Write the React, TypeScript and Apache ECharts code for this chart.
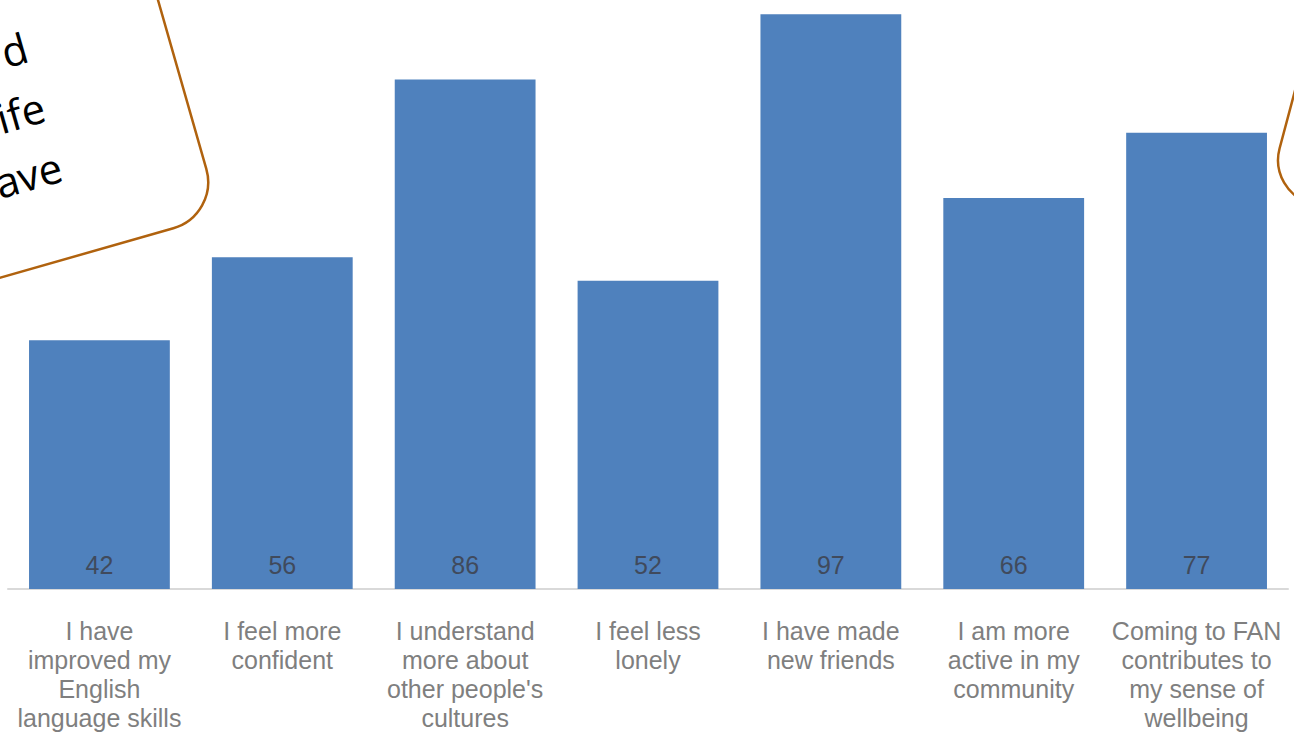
import React, { useEffect, useRef } from "react";
import * as echarts from "echarts";

const categories: string[] = [
  "I have\nimproved my\nEnglish\nlanguage skills",
  "I feel more\nconfident",
  "I understand\nmore about\nother people's\ncultures",
  "I feel less\nlonely",
  "I have made\nnew friends",
  "I am more\nactive in my\ncommunity",
  "Coming to FAN\ncontributes to\nmy sense of\nwellbeing",
];
const values: number[] = [42, 56, 86, 52, 97, 66, 77];
const calloutLines: string[] = ["d", "ife", "ave"];

const BROWN = "#b0620e";

export default function App() {
  const ref = useRef<HTMLDivElement>(null);
  useEffect(() => {
    if (!ref.current) return;
    const chart = echarts.init(ref.current, undefined, { renderer: "svg" });
    const labelFont = "'Liberation Sans', Arial, sans-serif";
    chart.setOption({
      animation: false,
      backgroundColor: "#ffffff",
      grid: { left: 8, right: 6, top: 0, bottom: 147, containLabel: false },
      xAxis: {
        type: "category",
        data: categories,
        axisLine: { show: true, lineStyle: { color: "#d9d9d9", width: 2 } },
        axisTick: { show: false },
        axisLabel: {
          interval: 0,
          margin: 27,
          color: "#7f7f7f",
          fontSize: 25,
          lineHeight: 29,
          fontFamily: labelFont,
          verticalAlign: "top",
        },
      },
      yAxis: {
        type: "value",
        min: 0,
        max: 99.4,
        show: false,
        splitLine: { show: false },
      },
      series: [
        {
          type: "bar",
          data: values,
          barCategoryGap: "23%",
          itemStyle: { color: "#4f81bd" },
          label: {
            show: true,
            position: "insideBottom",
            distance: 12,
            color: "#404a5c",
            fontSize: 25,
            fontFamily: labelFont,
          },
        },
      ],
      graphic: [
        {
          type: "group",
          x: 219.5,
          y: 215,
          rotation: 0.279,
          children: [
            {
              type: "rect",
              shape: { x: -600, y: -400, width: 600, height: 400, r: 48 },
              style: { fill: "#ffffff", stroke: BROWN, lineWidth: 2.5 },
            },
            ...calloutLines.map((t, i) => ({
              type: "text",
              style: {
                text: t,
                x: -139,
                y: -216 + i * 62,
                align: "right",
                verticalAlign: "middle",
                fontSize: 42,
                fontFamily: "'Open Sans', sans-serif",
                fill: "#000000",
              },
            })),
          ],
        },
        {
          type: "group",
          x: 1268,
          y: 192,
          rotation: -0.26,
          children: [
            {
              type: "rect",
              shape: { x: 0, y: -300, width: 400, height: 300, r: 45 },
              style: { fill: "#ffffff", stroke: BROWN, lineWidth: 2.5 },
            },
          ],
        },
      ],
    });
    return () => chart.dispose();
  }, []);
  return (
    <div
      ref={ref}
      style={{ position: "fixed", left: 0, top: 0, width: 1294, height: 736 }}
    />
  );
}
